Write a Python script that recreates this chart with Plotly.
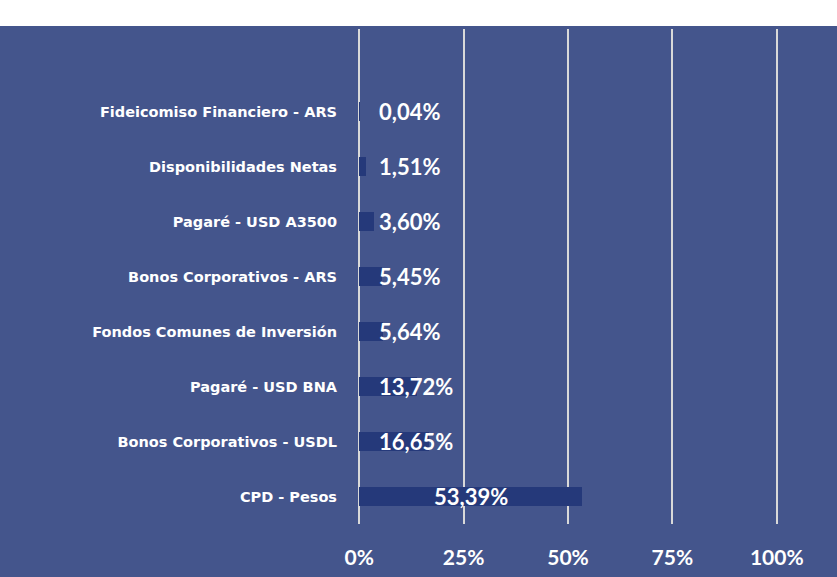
import plotly.graph_objects as go

# Portfolio composition, listed bottom-to-top on the category axis
categories = [
    "CPD - Pesos",
    "Bonos Corporativos - USDL",
    "Pagaré - USD BNA",
    "Fondos Comunes de Inversión",
    "Bonos Corporativos - ARS",
    "Pagaré - USD A3500",
    "Disponibilidades Netas",
    "Fideicomiso Financiero - ARS",
]
shares = [53.39, 16.65, 13.72, 5.64, 5.45, 3.60, 1.51, 0.04]  # percent
tick_values = [0, 0.25, 0.5, 0.75, 1.0]
tick_labels = ["0%", "25%", "50%", "75%", "100%"]

BG = "#44558C"
BAR = "#25397A"
GRID = "#D9D9D9"
FONT = "Lato"

W, H = 837, 577
ML, MR, MT, MB = 358, 59, 29, 53
plot_w = W - ML - MR
plot_h = H - MT - MB

fig = go.Figure()
fig.add_trace(go.Bar(
    y=categories,
    x=[v / 100 for v in shares],
    orientation="h",
    marker=dict(color=BAR, line=dict(width=0)),
    width=0.34,
    hoverinfo="skip",
))

def fmt(v):
    return f"{v:.2f}".replace(".", ",") + "%"

largest = max(shares)
for cat, v in zip(categories, shares):
    if v == largest:
        fig.add_annotation(x=v / 200, y=cat, text=f"<b>{fmt(v)}</b>",
                           showarrow=False, xanchor="center",
                           font=dict(family=FONT, size=22, color="white"))
    else:
        fig.add_annotation(x=0, y=cat, text=f"<b>{fmt(v)}</b>",
                           showarrow=False, xanchor="left", xshift=18,
                           font=dict(family=FONT, size=22, color="white"))

# white strip across the top edge
fig.add_shape(type="rect", xref="paper", yref="paper",
              x0=-ML / plot_w, x1=(W - ML) / plot_w,
              y0=1 + 3 / plot_h, y1=1 + (MT + 5) / plot_h,
              fillcolor="white", line=dict(width=0), layer="above")

fig.update_layout(
    width=W, height=H,
    margin=dict(l=ML, r=MR, t=MT, b=MB, pad=0, autoexpand=False),
    paper_bgcolor=BG, plot_bgcolor=BG,
    showlegend=False,
    bargap=0,
    xaxis=dict(
        range=[-0.003, 1.003], tickvals=tick_values, ticktext=tick_labels,
        showgrid=True, gridcolor=GRID, gridwidth=2,
        zeroline=False, showline=False,
        ticks="outside", ticklen=15, tickcolor="rgba(0,0,0,0)",
        tickfont=dict(family=FONT, size=21, color="white", weight="bold"),
        automargin=False, fixedrange=True,
    ),
    yaxis=dict(
        type="category", categoryarray=categories,
        range=[-0.5, 8.5],
        showgrid=False, zeroline=False, showline=False,
        ticks="", ticklabelstandoff=20,
        tickfont=dict(family="DejaVu Sans", size=14.5, color="white", weight="bold"),
        automargin=False, fixedrange=True,
    ),
)

fig.write_html("out.html")
